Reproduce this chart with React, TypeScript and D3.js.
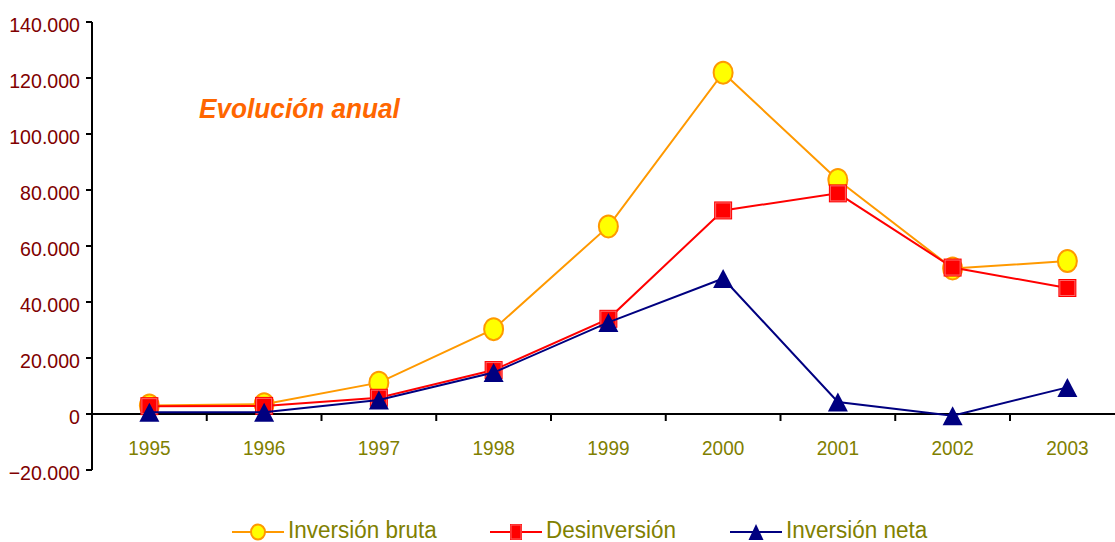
import React from "react";
import * as d3 from "d3";

const years = ["1995", "1996", "1997", "1998", "1999", "2000", "2001", "2002", "2003"];
const inversionBruta = [3000, 3500, 11200, 30300, 67000, 121900, 83600, 52000, 54600];
const desinversion = [2800, 2900, 5800, 15700, 34000, 72700, 78800, 52300, 45000];
const inversionNeta = [600, 600, 5000, 14800, 32700, 48400, 4300, -600, 9500];
const yTicks = [-20000, 0, 20000, 40000, 60000, 80000, 100000, 120000, 140000];
const legendLabels = ["Inversión bruta", "Desinversión", "Inversión neta"];
const title = "Evolución anual";

const W = 1115;
const H = 542;

const fmt = (v: number) => {
  if (v === 0) return "0";
  const s = d3.format(",")(v);
  return s.replace(/,/g, ".");
};

export default function App() {
  const x = d3.scaleBand<string>().domain(years).range([92, 92 + 9 * 114.75]).padding(0);
  const y = d3.scaleLinear().domain([-20000, 140000]).range([470, 22]);
  const cx = (yr: string) => (x(yr) as number) + x.bandwidth() / 2;
  const line = d3
    .line<number>()
    .x((_, i) => cx(years[i]))
    .y((d) => y(d));

  const y0 = y(0);
  const font = "'Liberation Sans', Arial, sans-serif";

  const tri = (px: number, py: number, w: number, h: number) =>
    `M${px},${py - h / 2}L${px + w / 2},${py + h / 2}L${px - w / 2},${py + h / 2}Z`;

  const legendY = 532;
  const legendItems = [
    { x0: 232, label: legendLabels[0], kind: "circle" },
    { x0: 490, label: legendLabels[1], kind: "square" },
    { x0: 730, label: legendLabels[2], kind: "tri" },
  ];

  return (
    <svg
      width={W}
      height={H}
      style={{ position: "absolute", left: 0, top: 0, background: "#fff" }}
      fontFamily={font}
    >
      {/* y axis */}
      <line x1={92} x2={92} y1={y(140000)} y2={y(-20000)} stroke="#000" strokeWidth={2} />
      {yTicks.map((t) => (
        <g key={t}>
          <line x1={86} x2={92} y1={y(t)} y2={y(t)} stroke="#000" strokeWidth={2} />
          <text
            transform={`translate(80,${y(t) + 9.5}) scale(1,1.07)`}
            textAnchor="end"
            fontSize={19.6}
            fill="#800000"
          >
            {fmt(t)}
          </text>
        </g>
      ))}
      {/* x axis */}
      <line x1={92} x2={W} y1={y0} y2={y0} stroke="#000" strokeWidth={2} />
      {years.slice(1).map((yr) => (
        <line key={yr} x1={x(yr)} x2={x(yr)} y1={y0} y2={y0 + 7} stroke="#000" strokeWidth={2} />
      ))}
      {years.map((yr) => (
        <text
          key={yr}
          transform={`translate(${cx(yr)},455) scale(1,1.07)`}
          textAnchor="middle"
          fontSize={19}
          fill="#808000"
        >
          {yr}
        </text>
      ))}

      {/* title */}
      <text
        transform="translate(199,118) scale(1,1.05)"
        fontSize={26.2}
        fontWeight="bold"
        fontStyle="italic"
        fill="#FF6600"
      >
        {title}
      </text>

      {/* series: bruta */}
      <path d={line(inversionBruta) || ""} fill="none" stroke="#FF9900" strokeWidth={2} />
      {inversionBruta.map((v, i) => (
        <ellipse key={i} cx={cx(years[i])} cy={y(v)} rx={9.5} ry={11} fill="#FFFF00" stroke="#FF9900" strokeWidth={2} />
      ))}
      {/* desinversion */}
      <path d={line(desinversion) || ""} fill="none" stroke="#FF0000" strokeWidth={2} />
      {desinversion.map((v, i) => (
        <g key={i}>
          <rect x={cx(years[i]) - 9} y={y(v) - 9} width={18} height={18} fill="#FF0000" />
          <rect x={cx(years[i]) - 7.5} y={y(v) - 7.5} width={15} height={15} fill="none" stroke="#FF6666" strokeWidth={1} />
        </g>
      ))}
      {/* neta */}
      <path d={line(inversionNeta) || ""} fill="none" stroke="#000080" strokeWidth={2} />
      {inversionNeta.map((v, i) => (
        <path key={i} d={tri(cx(years[i]), y(v), 20, 19)} fill="#000080" />
      ))}

      {/* legend */}
      {legendItems.map((it) => {
        const mx = it.x0 + 26;
        return (
          <g key={it.label}>
            {it.kind === "circle" && (
              <>
                <line x1={it.x0} x2={it.x0 + 52} y1={legendY} y2={legendY} stroke="#FF9900" strokeWidth={2} />
                <ellipse cx={mx} cy={legendY} rx={7} ry={7.5} fill="#FFFF00" stroke="#FF9900" strokeWidth={2} />
              </>
            )}
            {it.kind === "square" && (
              <>
                <line x1={it.x0} x2={it.x0 + 52} y1={legendY} y2={legendY} stroke="#FF0000" strokeWidth={2} />
                <rect x={mx - 6} y={legendY - 8} width={12} height={16} fill="#FF0000" />
                <rect x={mx - 5} y={legendY - 7} width={10} height={14} fill="none" stroke="#FF6666" strokeWidth={1} />
              </>
            )}
            {it.kind === "tri" && (
              <>
                <line x1={it.x0} x2={it.x0 + 52} y1={legendY} y2={legendY} stroke="#000080" strokeWidth={2} />
                <path d={tri(mx, legendY, 15, 16)} fill="#000080" />
              </>
            )}
            <text
              transform={`translate(${it.x0 + 56},538) scale(1,1.1)`}
              fontSize={22.5}
              fill="#808000"
            >
              {it.label}
            </text>
          </g>
        );
      })}
    </svg>
  );
}
